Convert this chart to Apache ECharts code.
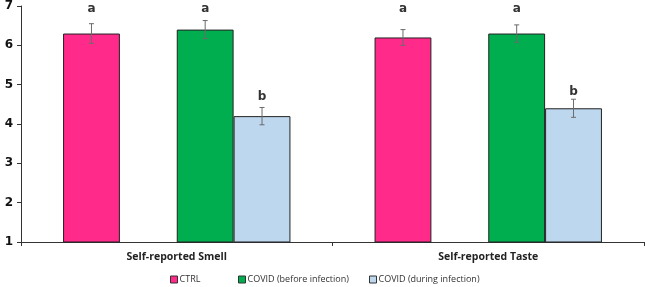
<!DOCTYPE html>
<html><head><meta charset="utf-8">
<script src="https://cdn.jsdelivr.net/npm/echarts@6/dist/echarts.min.js"></script>
<style>html,body{margin:0;padding:0;background:#fff}#c{width:645px;height:287px}</style>
</head><body><div id="c"></div>
<script>
const categories = ['Self-reported Smell', 'Self-reported Taste'];
const seriesNames = ['CTRL', 'COVID (before infection)', 'COVID (during infection)'];
const ctrl = [6.3, 6.2];
const covidBefore = [6.4, 6.3];
const covidDuring = [4.2, 4.4];
const ctrlErr = [0.25, 0.2];
const covidBeforeErr = [0.23, 0.22];
const covidDuringErr = [0.22, 0.23];
const ctrlLetters = ['a', 'a'];
const covidBeforeLetters = ['a', 'a'];
const covidDuringLetters = ['b', 'b'];
const letterY = [[6.92, 6.92], [6.92, 6.92], [4.68, 4.81]];
const yTicks = [1, 2, 3, 4, 5, 6, 7];

const colors = ['#FF2A8A', '#00AE4F', '#BDD7EE'];
const catGap = 0.27;
const nSlots = 4;
// slot index of each series (slot 1 is an empty slot)
const slotOf = [0, 2, 3];

const means = [ctrl, covidBefore, covidDuring];
const errs = [ctrlErr, covidBeforeErr, covidDuringErr];
const letters = [ctrlLetters, covidBeforeLetters, covidDuringLetters];
const errData = [];
for (let s = 0; s < 3; s++) for (let c = 0; c < categories.length; c++)
  errData.push([c, slotOf[s], means[s][c], errs[s][c], letterY[s][c], letters[s][c]]);

const chart = echarts.init(document.getElementById('c'));
const barSeries = (name, data, color) => ({
  name, type: 'bar', data, barGap: '0%', barCategoryGap: '27%',
  itemStyle: { color, borderColor: '#222', borderWidth: 1 }, z: 2
});
chart.setOption({
  animation: false,
  grid: { left: 21, right: 1, top: 4, bottom: 45 },
  legend: [
    { data: ['CTRL'], left: 170 },
    { data: ['COVID (before infection)'], left: 238 },
    { data: ['COVID (during infection)'], left: 369 }
  ].map(l => Object.assign(l, {
    top: 275, itemWidth: 7, itemHeight: 7, itemGap: 0, padding: 0,
    icon: 'rect',
    itemStyle: { borderColor: '#333', borderWidth: 1 },
    textStyle: { fontFamily: 'Open Sans', fontSize: 9, color: '#333', padding: [0, 0, 0, -3] }
  })),
  xAxis: {
    type: 'category', data: categories,
    axisLine: { lineStyle: { color: '#333', width: 1 } },
    axisTick: { show: true, length: 4, lineStyle: { color: '#333' } },
    axisLabel: { fontFamily: 'Open Sans', fontWeight: 'bold', fontSize: 10.5, color: '#222', margin: 10 }
  },
  yAxis: {
    type: 'value', min: yTicks[0], max: yTicks[yTicks.length - 1], interval: 1,
    splitLine: { show: false },
    axisLine: { show: true, lineStyle: { color: '#333', width: 1 } },
    axisTick: { show: true, length: 4, lineStyle: { color: '#333' } },
    axisLabel: { fontFamily: 'DejaVu Sans', fontWeight: 'bold', fontSize: 12, color: '#111', margin: 8 }
  },
  series: [
    barSeries(seriesNames[0], ctrl, colors[0]),
    { name: 'empty', type: 'bar', data: categories.map(() => '-'), barGap: '0%', barCategoryGap: '27%' },
    barSeries(seriesNames[1], covidBefore, colors[1]),
    barSeries(seriesNames[2], covidDuring, colors[2]),
    {
      type: 'custom', z: 5, data: errData,
      renderItem: (params, api) => {
        const c = api.value(0), slot = api.value(1), m = api.value(2), e = api.value(3), ly = api.value(4);
        const w = api.size([1, 0])[0];
        const bw = w * (1 - catGap) / nSlots;
        const base = api.coord([c, m]);
        const x = base[0] - w * (1 - catGap) / 2 + bw * (slot + 0.5);
        const top = api.coord([c, m + e])[1], bot = api.coord([c, m - e])[1];
        const lyPx = api.coord([c, ly])[1];
        const st = { stroke: '#6b6b6b', lineWidth: 1 };
        const cap = 2.5;
        return { type: 'group', children: [
          { type: 'line', shape: { x1: x, y1: top, x2: x, y2: bot }, style: st },
          { type: 'line', shape: { x1: x - cap, y1: top, x2: x + cap, y2: top }, style: st },
          { type: 'line', shape: { x1: x - cap, y1: bot, x2: x + cap, y2: bot }, style: st },
          { type: 'text', style: { text: errData[params.dataIndex][5], x, y: lyPx, align: 'center', verticalAlign: 'middle',
            fontFamily: 'DejaVu Sans', fontWeight: 'bold', fontSize: 12, fill: '#333' } }
        ] };
      }
    }
  ]
});
</script></body></html>
